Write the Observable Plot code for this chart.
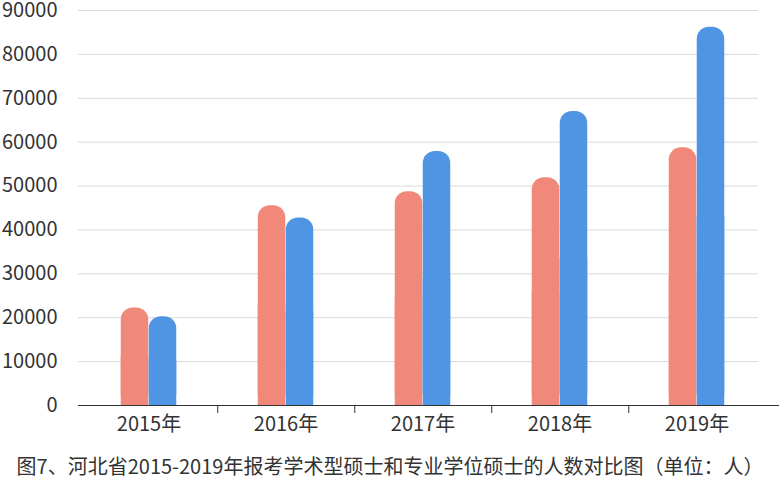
<!DOCTYPE html>
<html>
<head>
<meta charset="utf-8">
<script src="https://cdn.jsdelivr.net/npm/d3@7"></script>
<script src="https://cdn.jsdelivr.net/npm/@observablehq/plot@0.6"></script>
<style>
  html, body { margin: 0; padding: 0; background: #fff; }
  #wrap { width: 780px; }
  #caption { font-family: "Noto Sans CJK SC", sans-serif; font-size: 20px; color: #333; text-align: center; line-height: 26px; padding-top: 13px; }
</style>
</head>
<body>
<div id="wrap"></div>
<script>
const years = ["2015年", "2016年", "2017年", "2018年", "2019年"];
const academic = [22200, 45500, 48700, 51900, 58700];      // 学术型硕士
const professional = [20200, 42700, 57900, 67000, 86200];  // 专业学位硕士
const yTicks = [0, 10000, 20000, 30000, 40000, 50000, 60000, 70000, 80000, 90000];
const captionText = "图7、河北省2015-2019年报考学术型硕士和专业学位硕士的人数对比图（单位：人）";

const pink = "#F0897A";
const blue = "#4F95E3";

const acadRows = years.map((y, i) => ({year: y, value: academic[i]}));
const profRows = years.map((y, i) => ({year: y, value: professional[i]}));

const half = 137.5 / 2;
const barW = 28;

const chart = Plot.plot({
  width: 780,
  height: 440,
  marginLeft: 78,
  marginRight: 14,
  marginTop: 10,
  marginBottom: 35,
  style: {fontFamily: "'Noto Sans CJK SC', sans-serif", fontSize: "20px", color: "#333", background: "#fff"},
  x: {domain: years, padding: 0, label: null},
  y: {domain: [0, 90000], label: null},
  marks: [
    Plot.ruleY(yTicks.filter(t => t > 0), {y: d => d, stroke: "#d9d9d9", strokeWidth: 1, insetRight: 8}),
    Plot.barY(acadRows, {x: "year", y: "value", fill: pink, rx: 12, insetLeft: half - barW, insetRight: half}),
    Plot.barY(acadRows, {x: "year", y1: 0, y2: d => d.value / 2, fill: pink, insetLeft: half - barW, insetRight: half}),
    Plot.barY(profRows, {x: "year", y: "value", fill: blue, rx: 12, insetLeft: half, insetRight: half - barW}),
    Plot.barY(profRows, {x: "year", y1: 0, y2: d => d.value / 2, fill: blue, insetLeft: half, insetRight: half - barW}),
    Plot.ruleY([0], {stroke: "#333", strokeWidth: 1, insetRight: -13}),
    Plot.ruleX(years.slice(0, 4), {x: d => d, y1: 0, y2: 0, dx: half, insetBottom: -8, stroke: "#333"}),
    Plot.axisY({ticks: yTicks, tickSize: 0, tickPadding: 21, tickFormat: d => String(d), label: null}),
    Plot.axisX({tickSize: 0, tickPadding: 11, label: null})
  ]
});

document.getElementById("wrap").appendChild(chart);
const cap = document.createElement("div");
cap.id = "caption";
cap.textContent = captionText;
document.getElementById("wrap").appendChild(cap);
</script>
</body>
</html>
